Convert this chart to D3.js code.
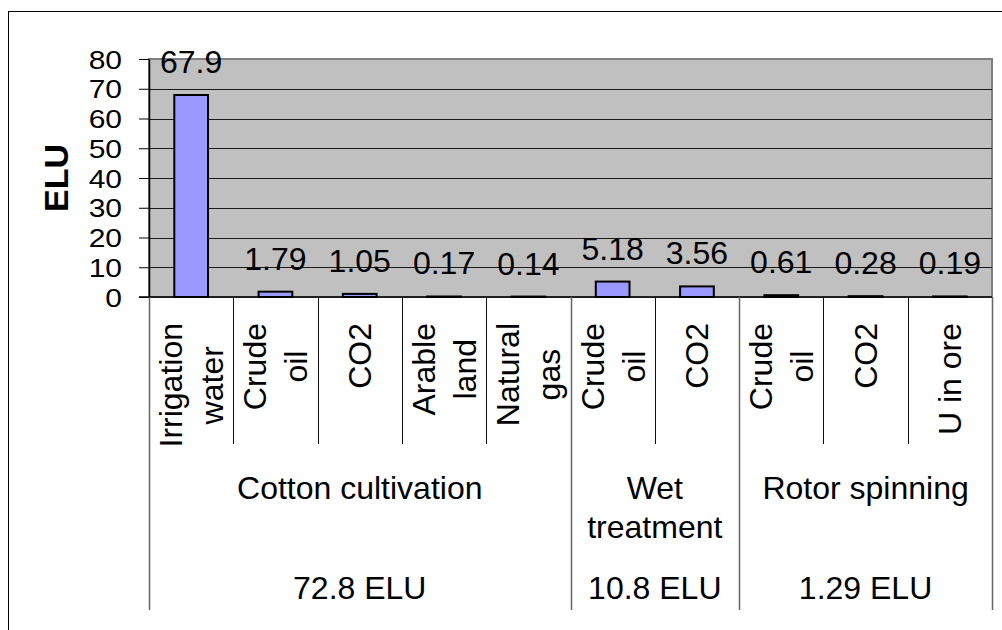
<!DOCTYPE html>
<html>
<head>
<meta charset="utf-8">
<script src="https://cdn.jsdelivr.net/npm/d3@7"></script>
<style>
  body { margin: 0; background: #fff; }
  svg { display: block; font-family: "Liberation Sans", Arial, sans-serif; }
</style>
</head>
<body>
<div id="chart"></div>
<script>
// values
let categories = [
    ["Irrigation", "water"],
    ["Crude", "oil"],
    ["CO2"],
    ["Arable", "land"],
    ["Natural", "gas"],
    ["Crude", "oil"],
    ["CO2"],
    ["Crude", "oil"],
    ["CO2"],
    ["U in ore"]
];
let values = [67.9, 1.79, 1.05, 0.17, 0.14, 5.18, 3.56, 0.61, 0.28, 0.19];
let valueLabels = ["67.9", "1.79", "1.05", "0.17", "0.14", "5.18", "3.56", "0.61", "0.28", "0.19"];
let groupNames = [["Cotton cultivation"], ["Wet", "treatment"], ["Rotor spinning"]];
let groupTotals = ["72.8 ELU", "10.8 ELU", "1.29 ELU"];
let groupSizes = [5, 2, 3];
let yTicks = [0, 10, 20, 30, 40, 50, 60, 70, 80];
let yTitle = "ELU";

function graph(id) {
    let width = 1002, height = 630;
    let plot = { left: 149, right: 992, top: 59, bottom: 297 };
    let fontSize = 32;

    let svg = d3.select(id)
        .append("svg")
        .attr("width", width)
        .attr("height", height);

    // outer chart border (runs off the right and bottom of the picture)
    svg.append("rect")
        .attr("x", 8.5).attr("y", 11.5)
        .attr("width", 1100).attr("height", 700)
        .attr("fill", "none")
        .attr("stroke", "#000")
        .attr("stroke-width", 1);

    let x = d3.scaleBand()
        .domain(d3.range(values.length))
        .range([plot.left, plot.right])
        .padding(0);

    let y = d3.scaleLinear()
        .domain([0, 80])
        .range([plot.bottom, plot.top]);

    // plot area
    svg.append("rect")
        .attr("x", plot.left).attr("y", plot.top)
        .attr("width", plot.right - plot.left)
        .attr("height", plot.bottom - plot.top)
        .attr("fill", "#c0c0c0")
        .attr("stroke", "#808080")
        .attr("stroke-width", 2);

    // gridlines
    svg.append("g")
        .selectAll("line")
        .data(yTicks.filter((t) => t > 0 && t < 80))
        .enter()
        .append("line")
        .attr("x1", plot.left).attr("x2", plot.right)
        .attr("y1", (d) => Math.round(y(d)) + 0.5)
        .attr("y2", (d) => Math.round(y(d)) + 0.5)
        .attr("stroke", "#1a1a1a")
        .attr("stroke-width", 1);

    // y axis - labels are packed tight, so use a smaller size stretched sideways
    let tickStretch = 1.2;
    let yAxis = svg.append("g")
        .attr("transform", `translate(${plot.left},0)`)
        .call(d3.axisLeft(y).tickValues(yTicks).tickSize(10).tickSizeOuter(0).tickPadding(17));
    yAxis.select(".domain").attr("stroke", "#000").attr("stroke-width", 1.5);
    yAxis.selectAll(".tick line").attr("stroke", "#000");
    yAxis.selectAll(".tick text")
        .attr("font-size", 25)
        .attr("font-family", "Liberation Sans, Arial, sans-serif")
        .attr("fill", "#000")
        .attr("x", -27 / tickStretch)
        .attr("transform", `scale(${tickStretch},1)`)
        .attr("dy", "0.36em");

    // y axis title
    svg.append("text")
        .attr("transform", `translate(68,${(plot.top + plot.bottom) / 2}) rotate(-90)`)
        .attr("text-anchor", "middle")
        .attr("font-size", 34)
        .attr("font-weight", "bold")
        .text(yTitle);

    // bars
    let barW = x.bandwidth() * 0.4;
    svg.append("g")
        .selectAll("rect")
        .data(values)
        .enter()
        .append("rect")
        .attr("x", (d, i) => x(i) + (x.bandwidth() - barW) / 2)
        .attr("y", (d) => y(d))
        .attr("width", barW)
        .attr("height", (d) => y(0) - y(d))
        .attr("fill", "#9999ff")
        .attr("stroke", "#000")
        .attr("stroke-width", 2);

    // value labels
    svg.append("g")
        .selectAll("text")
        .data(values)
        .enter()
        .append("text")
        .attr("x", (d, i) => x(i) + x.bandwidth() / 2)
        .attr("y", (d) => y(d) - 22)
        .attr("text-anchor", "middle")
        .attr("font-size", fontSize)
        .text((d, i) => valueLabels[i]);

    // x axis baseline
    svg.append("line")
        .attr("x1", plot.left - 10).attr("x2", plot.right)
        .attr("y1", plot.bottom).attr("y2", plot.bottom)
        .attr("stroke", "#000")
        .attr("stroke-width", 1.5);

    // category separators
    let bounds = d3.range(values.length + 1).map((i) => i < values.length ? x(i) : plot.right);
    let groupStarts = [0];
    groupSizes.forEach((s, i) => groupStarts.push(groupStarts[i] + s));

    svg.append("g")
        .selectAll("line")
        .data(bounds.map((b, i) => ({ b: b, i: i })).filter((d) => !groupStarts.includes(d.i)))
        .enter()
        .append("line")
        .attr("x1", (d) => Math.round(d.b) + 0.5).attr("x2", (d) => Math.round(d.b) + 0.5)
        .attr("y1", plot.bottom).attr("y2", 444)
        .attr("stroke", "#111")
        .attr("stroke-width", 1);

    svg.append("g")
        .selectAll("line")
        .data(groupStarts)
        .enter()
        .append("line")
        .attr("x1", (d) => Math.round(bounds[d]) + 0.5).attr("x2", (d) => Math.round(bounds[d]) + 0.5)
        .attr("y1", plot.bottom).attr("y2", 610)
        .attr("stroke", "#666")
        .attr("stroke-width", 1.5);

    // rotated category labels, block top at y = 323, lines centred on each other
    let lineGap = 41, labelTop = 323;
    categories.forEach((lines, i) => {
        let cx = x(i) + x.bandwidth() / 2;
        let g = svg.append("g");
        let texts = g.selectAll("text")
            .data(lines)
            .enter()
            .append("text")
            .attr("font-size", fontSize)
            .attr("text-anchor", "middle")
            .text((d) => d);
        let maxLen = d3.max(texts.nodes(), (n) => n.getComputedTextLength());
        texts.attr("transform", (d, j) => {
            let off = fontSize * 0.36 + (j - (lines.length - 1) / 2) * lineGap;
            return `translate(${cx + off},${labelTop + maxLen / 2}) rotate(-90)`;
        });
    });

    // group names and totals
    groupSizes.forEach((s, gi) => {
        let gx = (bounds[groupStarts[gi]] + bounds[groupStarts[gi] + s]) / 2;
        svg.append("g")
            .selectAll("text")
            .data(groupNames[gi])
            .enter()
            .append("text")
            .attr("x", gx)
            .attr("y", (d, j) => 499 + j * 39)
            .attr("text-anchor", "middle")
            .attr("font-size", fontSize)
            .text((d) => d);
        svg.append("text")
            .attr("x", gx)
            .attr("y", 599)
            .attr("text-anchor", "middle")
            .attr("font-size", fontSize)
            .text(groupTotals[gi]);
    });
}

graph("#chart");
</script>
</body>
</html>
